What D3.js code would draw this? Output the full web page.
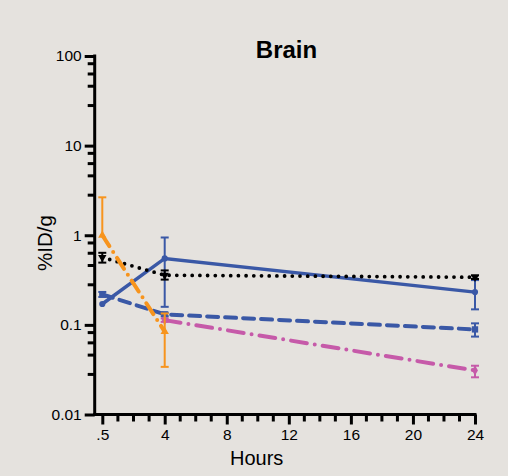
<!DOCTYPE html>
<html><head><meta charset="utf-8">
<script src="https://cdn.jsdelivr.net/npm/d3@7"></script>
<style>body{margin:0;background:#e5e2de}svg{display:block}text{font-family:"Liberation Sans",Arial,sans-serif;fill:#000}</style>
</head><body>
<script>
// ---- data ----
const title = "Brain";
const xLabel = "Hours";
const yLabel = "%ID/g";
const times = [0.5, 4, 24];
const xTickValues = [0.5, 4, 8, 12, 16, 20, 24];
const xTickLabels = [".5", "4", "8", "12", "16", "20", "24"];
const yTickValues = [0.01, 0.1, 1, 10, 100];
const yTickLabels = ["0.01", "0.1", "1", "10", "100"];
const yMinorFactors = [8.2, 6.3, 4.6, 2.8];

const blueSolid = [0.171, 0.551, 0.232];
const blueSolidLow = [0.171, 0.159, 0.149];
const blueSolidHigh = [0.171, 0.944, 0.316];

const blueDashed = [0.219, 0.131, 0.089];
const blueDashedLow = [0.205, 0.125, 0.074];
const blueDashedHigh = [0.233, 0.137, 0.104];

const blackDotted = [0.566, 0.358, 0.34];
const blackDottedLow = [0.495, 0.32, 0.325];
const blackDottedHigh = [0.637, 0.405, 0.357];

const orangeTimes = [0.5, 4];
const orange = [1.0, 0.084];
const orangeLow = [1.0, 0.034];
const orangeHigh = [2.65, 0.134];

const pinkTimes = [4, 24];
const pink = [0.113, 0.031];
const pinkLow = [0.108, 0.026];
const pinkHigh = [0.118, 0.035];

// ---- layout ----
const W = 508, H = 476;
const svg = d3.select("body").append("svg").attr("width", W).attr("height", H);
svg.append("rect").attr("width", W).attr("height", H).attr("fill", "#e5e2de");

const x = d3.scaleLinear().domain([0.5, 4, 24]).range([102.3, 164.7, 475]);
const y = d3.scaleLog().domain([0.01, 100]).range([414.5, 56]);

const axisColor = "#000";

// y axis
const yAxis = d3.axisLeft(y).tickValues(yTickValues)
  .tickFormat((d, i) => yTickLabels[i]).tickSize(10).tickSizeOuter(0).tickPadding(3);
const gy = svg.append("g").attr("transform", "translate(94.7,0)").call(yAxis);
gy.select(".domain").remove();
gy.selectAll(".tick line").attr("stroke", axisColor).attr("stroke-width", 3);
gy.selectAll(".tick text").style("font-size", "15.5px").attr("fill", "#000");
// y minor ticks
const yMinor = [];
yTickValues.slice(0, -1).forEach(v => yMinorFactors.forEach(f => yMinor.push(v * f)));
svg.append("g").selectAll("line").data(yMinor).join("line")
  .attr("x1", 94.7 - 7).attr("x2", 94.7).attr("y1", d => y(d)).attr("y2", d => y(d))
  .attr("stroke", axisColor).attr("stroke-width", 3);

// x axis
const xAxis = d3.axisBottom(x).tickValues(xTickValues)
  .tickFormat((d, i) => xTickLabels[i]).tickSize(10).tickSizeOuter(0).tickPadding(4);
const gx = svg.append("g").attr("transform", "translate(0,414.5)").call(xAxis);
gx.select(".domain").remove();
gx.selectAll(".tick line").attr("stroke", axisColor).attr("stroke-width", 3);
gx.selectAll(".tick text").style("font-size", "15.5px").attr("fill", "#000");
// x minor ticks
const xMinor = [];
for (let k = 1; k < 4; k++) xMinor.push(0.5 + 3.5 * k / 4);
for (let h = 5; h < 24; h++) if (h % 4 !== 0) xMinor.push(h);
svg.append("g").selectAll("line").data(xMinor).join("line")
  .attr("x1", d => x(d)).attr("x2", d => x(d)).attr("y1", 414.5).attr("y2", 414.5 + 7)
  .attr("stroke", axisColor).attr("stroke-width", 3);

// axis lines
svg.append("line").attr("x1", 94.7).attr("x2", 94.7).attr("y1", y(100)).attr("y2", 414.5)
  .attr("stroke", axisColor).attr("stroke-width", 3).attr("stroke-linecap", "square");
svg.append("line").attr("x1", 94.7).attr("x2", x(24)).attr("y1", 414.5).attr("y2", 414.5)
  .attr("stroke", axisColor).attr("stroke-width", 3).attr("stroke-linecap", "square");

// labels
svg.append("text").attr("x", 286.5).attr("y", 57.5).attr("text-anchor", "middle")
  .style("font-size", "24px").style("font-weight", "bold").text(title);
svg.append("text").attr("x", 256.7).attr("y", 464.5).attr("text-anchor", "middle")
  .style("font-size", "20px").text(xLabel);
svg.append("text").attr("transform", "translate(51.5,243) rotate(-90)").attr("text-anchor", "middle")
  .style("font-size", "20.5px").text(yLabel);

// series
const series = [
  {t: times, v: blueSolid, lo: blueSolidLow, hi: blueSolidHigh, color: "#3a58a6", dash: null, width: 3.5, marker: "circle"},
  {t: times, v: blueDashed, lo: blueDashedLow, hi: blueDashedHigh, color: "#3a58a6", dash: "11,7", width: 4, cap: "round", marker: "square"},
  {t: times, v: blackDotted, lo: blackDottedLow, hi: blackDottedHigh, color: "#000", dash: "0,7.7", width: 3.8, cap: "round", marker: "triangle-down"},
  {t: pinkTimes, v: pink, lo: pinkLow, hi: pinkHigh, color: "#c65aa9", dash: "16,8,0,8", width: 4, cap: "round", marker: "diamond"},
  {t: orangeTimes, v: orange, lo: orangeLow, hi: orangeHigh, color: "#f7941d", dash: "13,7,0,7", width: 4, cap: "round", marker: "triangle"}
];

const line = d3.line().x(d => x(d[0])).y(d => y(d[1]));
const symbols = {circle: d3.symbolCircle, square: d3.symbolSquare, "triangle-down": d3.symbolTriangle, triangle: d3.symbolTriangle, diamond: d3.symbolDiamond};

series.forEach(s => {
  const pts = s.t.map((t, i) => [t, s.v[i]]);
  const g = svg.append("g");
  g.append("path").attr("d", line(pts)).attr("fill", "none").attr("stroke", s.color)
    .attr("stroke-width", s.width).attr("stroke-dasharray", s.dash)
    .attr("stroke-linecap", s.cap || "butt");
  // error bars
  s.t.forEach((t, i) => {
    const cx = x(t);
    const segs = [];
    if (s.hi[i] > s.v[i]) segs.push(s.hi[i]);
    if (s.lo[i] < s.v[i]) segs.push(s.lo[i]);
    segs.forEach(e => {
      g.append("line").attr("x1", cx).attr("x2", cx).attr("y1", y(s.v[i])).attr("y2", y(e))
        .attr("stroke", s.color).attr("stroke-width", 2);
      g.append("line").attr("x1", cx - 4).attr("x2", cx + 4).attr("y1", y(e)).attr("y2", y(e))
        .attr("stroke", s.color).attr("stroke-width", 2);
    });
  });
  g.selectAll("path.m").data(pts).join("path").attr("class", "m")
    .attr("transform", d => `translate(${x(d[0])},${y(d[1])})` + (s.marker === "triangle-down" ? " rotate(180)" : ""))
    .attr("d", d3.symbol().type(symbols[s.marker]).size(s.marker === "square" ? 40 : 30))
    .attr("fill", s.color);
});
</script>
</body></html>
